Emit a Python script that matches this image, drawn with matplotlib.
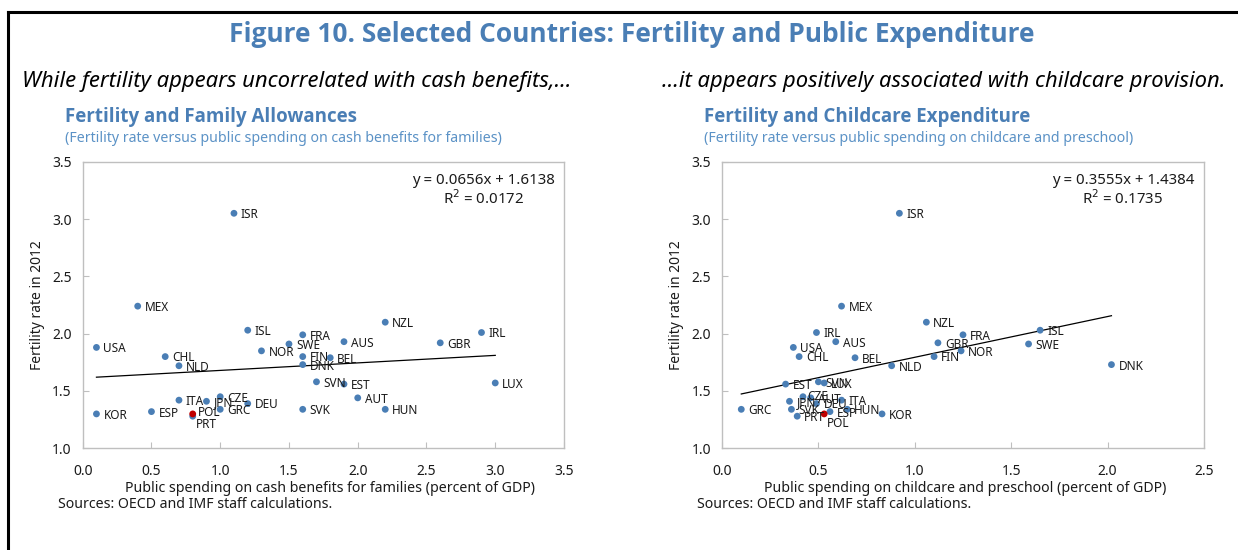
import matplotlib
matplotlib.use("Agg")
import matplotlib.pyplot as plt
from matplotlib.lines import Line2D

plt.rcParams['font.family'] = ['Noto Sans', 'DejaVu Sans']
BOLD_FAMILY = ['Open Sans', 'Lato', 'DejaVu Sans']

# ---- data -------------------------------------------------------------
countries = ["ISR", "MEX", "NZL", "IRL", "FRA", "ISL", "AUS", "GBR", "SWE",
             "USA", "NOR", "CHL", "BEL", "FIN", "NLD", "DNK", "EST", "SVN",
             "LUX", "CZE", "AUT", "JPN", "DEU", "ITA", "GRC", "SVK", "HUN",
             "ESP", "KOR", "POL", "PRT"]

fertility_2012 = [3.05, 2.24, 2.10, 2.01, 1.99, 2.03, 1.93, 1.92, 1.91,
                  1.88, 1.85, 1.80, 1.79, 1.80, 1.72, 1.73, 1.56, 1.58,
                  1.57, 1.45, 1.44, 1.41, 1.39, 1.42, 1.34, 1.34, 1.34,
                  1.32, 1.30, 1.30, 1.28]

cash_benefits = [1.10, 0.40, 2.20, 2.90, 1.60, 1.20, 1.90, 2.60, 1.50,
                 0.10, 1.30, 0.60, 1.80, 1.60, 0.70, 1.60, 1.90, 1.70,
                 3.00, 1.00, 2.00, 0.90, 1.20, 0.70, 1.00, 1.60, 2.20,
                 0.50, 0.10, 0.80, 0.80]

childcare = [0.92, 0.62, 1.06, 0.49, 1.25, 1.65, 0.59, 1.12, 1.59,
             0.37, 1.24, 0.40, 0.69, 1.10, 0.88, 2.02, 0.33, 0.50,
             0.53, 0.42, 0.46, 0.35, 0.49, 0.62, 0.10, 0.36, 0.65,
             0.56, 0.83, 0.53, 0.39]

highlight = "POL"

# linear fits (slope, intercept, R^2)
fit_cash = (0.0656, 1.6138, 0.0172)
fit_care = (0.3555, 1.4384, 0.1735)

# label offsets in points for a few crowded names (default is right of dot)
offsets_cash = {"PRT": (2, -6), "POL": (4, 1)}
offsets_care = {"POL": (2, -7), "CZE": (3, 0)}

# ---- style ------------------------------------------------------------
BLUE = "#4A7EB5"
TITLE_BLUE = "#4A7EB5"
SUB_BLUE = "#5B92C6"
RED = "#C00000"
FRAME = "#BFBFBF"
TXT = "#1A1A1A"

W, H = 1238, 550
fig = plt.figure(figsize=(W / 100, H / 100), dpi=100)


def fx(px):
    return px / W


def fy(py):
    return 1 - py / H


# outer frame: top rule and left rule
fig.add_artist(Line2D([fx(8), 1.0], [fy(12), fy(12)], color="black", lw=2.2))
fig.add_artist(Line2D([fx(8), fx(8)], [fy(12), 0.0], color="black", lw=2.2))

fig.text(fx(632), fy(35), "Figure 10. Selected Countries: Fertility and Public Expenditure",
         ha="center", va="center", fontsize=19, fontweight="bold",
         family=BOLD_FAMILY, color=TITLE_BLUE)
fig.text(fx(22), fy(82), "While fertility appears uncorrelated with cash benefits,...",
         ha="left", va="center", fontsize=15.9, style="italic", color="black")
fig.text(fx(1225), fy(82), "...it appears positively associated with childcare provision.",
         ha="right", va="center", fontsize=15.8, style="italic", color="black")


def panel(left_px, right_px, xs, xmax, fit, title, subtitle, xlabel, xlabel_pos,
          offsets):
    top_px, bot_px = 161.7, 448.3
    ax = fig.add_axes([fx(left_px), fy(bot_px), fx(right_px - left_px),
                       (bot_px - top_px) / H])
    colors = [RED if c == highlight else BLUE for c in countries]
    order = [i for i, c in enumerate(countries) if c != highlight] + \
            [countries.index(highlight)]
    ax.scatter([xs[i] for i in order], [fertility_2012[i] for i in order],
               s=24, c=[colors[i] for i in order], zorder=3, linewidths=0)
    for c, x, y in zip(countries, xs, fertility_2012):
        dx, dy = offsets.get(c, (5.0, -1))
        ax.annotate(c, (x, y), xytext=(dx, dy), textcoords="offset points",
                    ha="left", va="center", fontsize=8.5, color=TXT, zorder=4)
    slope, icpt, r2 = fit
    x0, x1 = min(xs), max(xs)
    ax.plot([x0, x1], [slope * x0 + icpt, slope * x1 + icpt],
            color="black", lw=0.9, zorder=2)
    ax.text(0.832, 0.962, f"y = {slope:.4f}x + {icpt:.4f}\nR$^2$ = {r2:.4f}",
            transform=ax.transAxes, ha="center", va="top", fontsize=10.8,
            color=TXT, linespacing=1.15, multialignment="center")
    ax.set_xlim(0, xmax)
    ax.set_ylim(1.0, 3.5)
    ax.set_xticks([i * 0.5 for i in range(int(xmax / 0.5) + 1)])
    ax.set_yticks([1.0, 1.5, 2.0, 2.5, 3.0, 3.5])
    ax.xaxis.set_major_formatter(matplotlib.ticker.FormatStrFormatter("%.1f"))
    ax.yaxis.set_major_formatter(matplotlib.ticker.FormatStrFormatter("%.1f"))
    ax.tick_params(direction="in", length=4, color=FRAME, labelsize=10,
                   labelcolor=TXT, pad=8)
    ax.tick_params(axis="x", pad=11)
    for sp in ax.spines.values():
        sp.set_color(FRAME)
        sp.set_linewidth(1.0)
    ax.set_ylabel("Fertility rate in 2012", fontsize=10, color=TXT, labelpad=5)
    ax.set_xlabel(xlabel, fontsize=10.2, color=TXT)
    ax.xaxis.set_label_coords((xlabel_pos - left_px) / (right_px - left_px),
                              -(489 - bot_px) / (bot_px - top_px))
    ax.xaxis.label.set_va("center")
    ax.text(fx(left_px - 18), fy(117), title, transform=fig.transFigure,
            ha="left", va="center", fontsize=13.5, fontweight="bold",
            family=BOLD_FAMILY, color=TITLE_BLUE)
    ax.text(fx(left_px - 18), fy(138), subtitle, transform=fig.transFigure,
            ha="left", va="center", fontsize=10.2, color=SUB_BLUE)
    ax.text(fx(left_px - 25), fy(504), "Sources: OECD and IMF staff calculations.",
            transform=fig.transFigure, ha="left", va="center", fontsize=10.2, color=TXT)
    return ax


panel(82.7, 564, cash_benefits, 3.5, fit_cash,
      "Fertility and Family Allowances",
      "(Fertility rate versus public spending on cash benefits for families)",
      "Public spending on cash benefits for families (percent of GDP)", 330,
      offsets_cash)
panel(722, 1204, childcare, 2.5, fit_care,
      "Fertility and Childcare Expenditure",
      "(Fertility rate versus public spending on childcare and preschool)",
      "Public spending on childcare and preschool (percent of GDP)", 965,
      offsets_care)

fig.savefig("out.png", dpi=100)
